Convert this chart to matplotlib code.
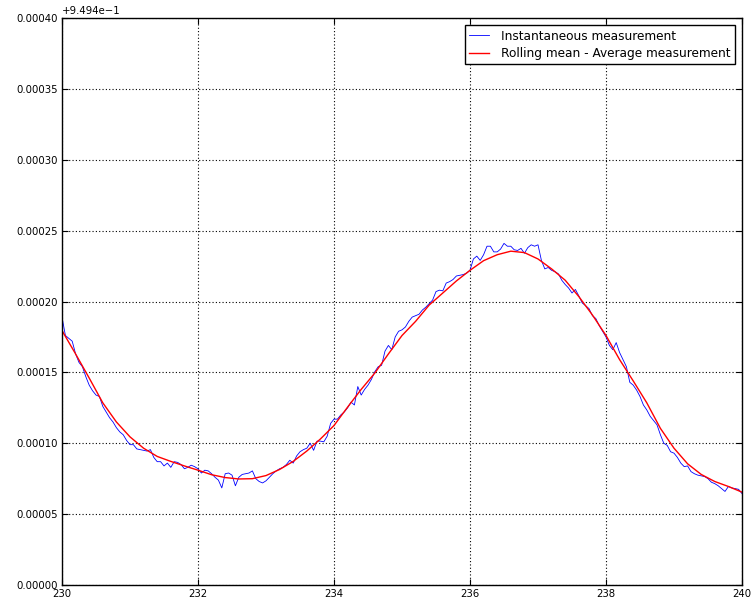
"""
Instantaneous vs rolling-mean measurement, x range 230-240.
"""
import numpy as np
import matplotlib
matplotlib.use("Agg")
import matplotlib.pyplot as plt
from matplotlib.ticker import ScalarFormatter

# baseline of the y values (shown as the axis offset)
BASE = 0.9494

# instantaneous measurement, sampled every 0.05, in units of 1e-5 above BASE
inst_x_start, inst_x_step = 230.0, 0.05
inst_vals = [
    18.9, 17.6, 17.4, 17.2, 16.3, 15.7, 15.4, 14.7, 14.1, 13.7,
    13.4, 13.3, 12.6, 12.2, 11.8, 11.5, 11.1, 10.8, 10.6, 10.2,
    9.9, 9.9, 9.6, 9.55, 9.5, 9.45, 9.55, 9.0, 8.7, 8.7,
    8.4, 8.6, 8.3, 8.7, 8.65, 8.5, 8.2, 8.3, 8.45, 8.35,
    8.2, 7.9, 8.1, 8.05, 7.85, 7.6, 7.4, 6.85, 7.85, 7.9,
    7.75, 7.0, 7.6, 7.8, 7.85, 7.9, 8.05, 7.5, 7.3, 7.2,
    7.35, 7.6, 7.85, 8.05, 8.2, 8.3, 8.5, 8.8, 8.6, 9.1,
    9.4, 9.55, 9.65, 10.0, 9.5, 10.15, 10.15, 10.1, 10.5, 11.4,
    11.7, 11.7, 12.0, 12.2, 12.5, 12.9, 12.7, 14.0, 13.4, 13.8,
    14.1, 14.5, 15.05, 15.4, 15.5, 16.5, 16.9, 16.6, 17.5, 17.9,
    18.0, 18.2, 18.6, 18.9, 19.0, 19.1, 19.4, 19.6, 19.85, 20.1,
    20.7, 20.8, 20.75, 21.3, 21.4, 21.55, 21.8, 21.85, 21.9, 22.0,
    22.2, 23.0, 23.2, 22.9, 23.3, 23.9, 23.9, 23.5, 23.5, 23.7,
    24.1, 23.9, 23.9, 23.65, 23.6, 23.75, 23.4, 23.8, 24.0, 23.9,
    24.0, 22.9, 22.3, 22.4, 22.2, 22.1, 21.95, 21.5, 21.2, 20.95,
    20.6, 20.85, 20.4, 19.9, 19.7, 19.5, 19.0, 18.8, 18.3, 17.9,
    17.5, 16.9, 16.6, 17.1, 16.4, 15.9, 15.4, 14.3, 14.1, 13.75,
    13.3, 12.7, 12.35, 11.9, 11.6, 11.3, 10.6, 10.0, 9.85, 9.4,
    9.3, 9.0, 8.6, 8.35, 8.4, 8.0, 7.85, 7.75, 7.7, 7.65,
    7.5, 7.25, 7.15, 7.0, 6.8, 6.6, 6.95, 6.85, 6.8, 6.75,
    6.45,
]

# rolling mean, sampled every 0.2, same units
mean_x_start, mean_x_step = 230.0, 0.2
mean_vals = [
    17.95, 16.3, 14.6, 12.85, 11.5, 10.45, 9.65, 9.07, 8.72, 8.4,
    8.1, 7.78, 7.58, 7.48, 7.5, 7.72, 8.15, 8.72, 9.45, 10.3,
    11.25, 12.55, 13.8, 14.95, 16.3, 17.6, 18.6, 19.75, 20.6, 21.45,
    22.2, 22.88, 23.3, 23.55, 23.45, 23.0, 22.3, 21.5, 20.35, 19.05,
    17.6, 15.9, 14.4, 12.85, 11.05, 9.65, 8.55, 7.8, 7.3, 6.95,
    6.55,
]

inst_x = inst_x_start + inst_x_step * np.arange(len(inst_vals))
inst_y = BASE + np.array(inst_vals) * 1e-5
mean_x = mean_x_start + mean_x_step * np.arange(len(mean_vals))
mean_y = BASE + np.array(mean_vals) * 1e-5

fig = plt.figure(figsize=(7.56, 6.0), dpi=100, facecolor='white')
ax = fig.add_axes([62 / 756, 15 / 600, 680 / 756, 567 / 600])

ax.plot(inst_x, inst_y, color='blue', linewidth=0.6,
        label='Instantaneous measurement')
ax.plot(mean_x, mean_y, color='red', linewidth=1.0,
        label='Rolling mean - Average measurement')

ax.set_xlim(230, 240)
ax.set_ylim(BASE, BASE + 0.0004)
ax.set_xticks(np.arange(230, 241, 2))
ax.set_yticks(BASE + np.arange(0, 0.00041, 0.00005))

fmt = ScalarFormatter(useOffset=BASE)
ax.yaxis.set_major_formatter(fmt)

# classic-looking dotted grid
ax.grid(True, color='black', linestyle=(0, (1, 2)), linewidth=0.8)
ax.tick_params(direction='in', top=True, right=True, length=4,
               labelsize=7.3, pad=3)
ax.yaxis.get_offset_text().set_fontsize(7.3)
for sp in ax.spines.values():
    sp.set_color('black')
    sp.set_linewidth(1.0)

leg = ax.legend(loc='upper right', fontsize=8.75, fancybox=False,
                framealpha=1, edgecolor='black', handlelength=1.6,
                handletextpad=1.0, borderpad=0.35, labelspacing=0.35,
                borderaxespad=0.6)
leg.get_frame().set_linewidth(1.0)

fig.savefig('out.png', dpi=100, facecolor='white')
